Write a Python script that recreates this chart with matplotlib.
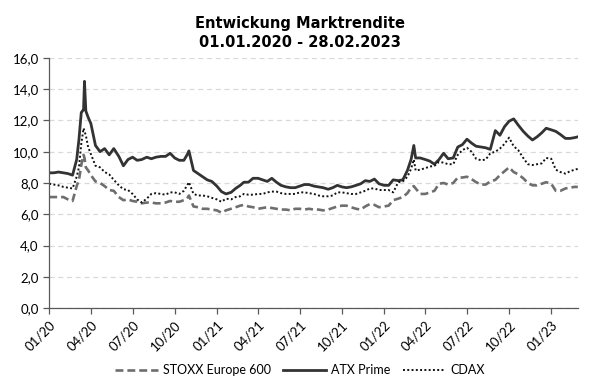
import numpy as np
import pandas as pd
import matplotlib
matplotlib.use("Agg")
import matplotlib.pyplot as plt
import matplotlib.dates as mdates
from matplotlib.ticker import FuncFormatter

# Stichtage (ca. alle 10 Tage, plus Extremwerte)
dates = [
    # 2020
    "2020-01-01", "2020-01-11", "2020-01-21", "2020-02-01", "2020-02-11", "2020-02-21",
    "2020-03-01", "2020-03-06", "2020-03-11", "2020-03-16", "2020-03-18", "2020-03-21", "2020-03-26",
    "2020-04-01", "2020-04-11", "2020-04-21", "2020-05-01", "2020-05-11", "2020-05-21",
    "2020-06-01", "2020-06-11", "2020-06-21", "2020-07-01", "2020-07-11", "2020-07-21",
    "2020-08-01", "2020-08-11", "2020-08-21", "2020-09-01", "2020-09-11", "2020-09-21",
    "2020-10-01", "2020-10-11", "2020-10-21", "2020-10-28",
    "2020-11-01", "2020-11-11", "2020-11-21", "2020-12-01", "2020-12-11", "2020-12-21",
    # 2021
    "2021-01-01", "2021-01-11", "2021-01-21", "2021-02-01", "2021-02-11", "2021-02-21",
    "2021-03-01", "2021-03-11", "2021-03-21", "2021-04-01", "2021-04-11", "2021-04-21",
    "2021-05-01", "2021-05-11", "2021-05-21", "2021-06-01", "2021-06-11", "2021-06-21",
    "2021-07-01", "2021-07-11", "2021-07-21", "2021-08-01", "2021-08-11", "2021-08-21",
    "2021-09-01", "2021-09-11", "2021-09-21", "2021-10-01", "2021-10-11", "2021-10-21",
    "2021-11-01", "2021-11-11", "2021-11-21", "2021-12-01", "2021-12-11", "2021-12-21",
    # 2022
    "2022-01-01", "2022-01-11", "2022-01-21", "2022-02-01", "2022-02-11", "2022-02-21",
    "2022-03-01", "2022-03-07", "2022-03-11", "2022-03-21",
    "2022-04-01", "2022-04-11", "2022-04-21", "2022-05-01", "2022-05-11", "2022-05-21",
    "2022-06-01", "2022-06-11", "2022-06-21", "2022-07-01", "2022-07-11", "2022-07-21",
    "2022-08-01", "2022-08-11", "2022-08-21", "2022-09-01", "2022-09-11", "2022-09-21",
    "2022-10-01", "2022-10-11", "2022-10-21", "2022-11-01", "2022-11-11", "2022-11-21",
    "2022-12-01", "2022-12-11", "2022-12-21",
    # 2023
    "2023-01-01", "2023-01-11", "2023-01-21", "2023-02-01", "2023-02-11", "2023-02-21", "2023-02-28",
]

atx_prime = [
    8.65, 8.65, 8.7, 8.65, 8.6, 8.5,
    9.5, 10.8, 12.5, 12.7, 14.5, 12.6, 12.2,
    11.8, 10.4, 10.0, 10.2, 9.8, 10.2,
    9.7, 9.1, 9.5, 9.65, 9.45, 9.5,
    9.65, 9.55, 9.65, 9.7, 9.7, 9.9,
    9.6, 9.45, 9.45, 9.8,
    10.05, 8.8, 8.6, 8.4, 8.2, 8.1,
    7.8, 7.45, 7.3, 7.4, 7.65, 7.85,
    8.05, 8.05, 8.3, 8.3, 8.2, 8.1,
    8.3, 8.05, 7.85, 7.75, 7.7, 7.7,
    7.8, 7.9, 7.9, 7.8, 7.75, 7.7,
    7.6, 7.7, 7.85, 7.75, 7.7, 7.75,
    7.85, 7.95, 8.15, 8.1, 8.25, 7.95,
    7.85, 7.85, 8.2, 8.15, 8.2, 8.8,
    9.5, 10.4, 9.6, 9.6,
    9.5, 9.4, 9.2, 9.5, 9.9, 9.55,
    9.6, 10.3, 10.45, 10.8, 10.55, 10.35,
    10.3, 10.25, 10.15, 11.35, 11.05, 11.6,
    11.95, 12.1, 11.7, 11.3, 11.0, 10.75,
    10.95, 11.2, 11.5,
    11.4, 11.3, 11.1, 10.85, 10.85, 10.9, 10.95,
]

cdax = [
    7.95, 7.9, 7.85, 7.75, 7.7, 7.65,
    8.4, 9.0, 10.5, 11.5, 11.3, 11.05, 10.3,
    9.85, 9.1, 9.0, 8.7, 8.55, 8.2,
    7.85, 7.6, 7.55, 7.3, 6.95, 6.75,
    7.0, 7.3, 7.35, 7.3, 7.25, 7.4,
    7.4, 7.3, 7.5, 7.85,
    8.05, 7.3, 7.2, 7.2, 7.15, 7.05,
    6.95, 6.8, 7.0, 6.95, 7.1, 7.15,
    7.3, 7.25, 7.25, 7.3, 7.3, 7.4,
    7.45, 7.45, 7.35, 7.3, 7.3, 7.3,
    7.4, 7.4, 7.35, 7.3, 7.2, 7.15,
    7.15, 7.2, 7.4, 7.4, 7.35, 7.3,
    7.3, 7.4, 7.5, 7.65, 7.65, 7.55,
    7.55, 7.55, 7.4, 8.05, 8.1, 8.4,
    8.9, 9.5, 8.8, 8.85,
    8.95, 9.05, 9.1, 9.35, 9.3, 9.2,
    9.2, 9.8, 10.1, 10.25, 10.0, 9.55,
    9.45, 9.5, 9.9, 10.0, 10.2, 10.5,
    10.9, 10.35, 10.1, 9.6, 9.2, 9.15,
    9.2, 9.25, 9.6,
    9.55, 8.85, 8.7, 8.6, 8.75, 8.85, 8.9,
]

stoxx_600 = [
    7.1, 7.1, 7.1, 7.1, 6.95, 6.85,
    7.8, 8.2, 9.15, 9.8, 9.6, 9.0, 8.8,
    8.5, 8.1, 8.0, 7.8, 7.55, 7.5,
    7.1, 6.9, 6.95, 6.85, 6.8, 6.7,
    6.75, 6.75, 6.7, 6.7, 6.75, 6.85,
    6.8, 6.8, 6.9, 7.0,
    7.2, 6.5, 6.45, 6.35, 6.35, 6.3,
    6.25, 6.1, 6.25, 6.35, 6.45, 6.55,
    6.6, 6.5, 6.45, 6.35, 6.4, 6.45,
    6.4, 6.35, 6.3, 6.3, 6.25, 6.35,
    6.35, 6.3, 6.35, 6.3, 6.3, 6.25,
    6.3, 6.4, 6.5, 6.55, 6.55, 6.45,
    6.35, 6.3, 6.5, 6.65, 6.6, 6.45,
    6.5, 6.55, 6.9, 7.0, 7.1, 7.35,
    7.7, 7.8, 7.65, 7.3,
    7.3, 7.4, 7.5, 7.95, 8.0, 7.9,
    8.0, 8.35, 8.35, 8.4, 8.25, 8.05,
    7.9, 7.9, 8.1, 8.2, 8.5, 8.75,
    9.0, 8.7, 8.55, 8.3, 8.0, 7.85,
    7.85, 7.95, 8.05,
    7.95, 7.5, 7.5, 7.65, 7.7, 7.75, 7.75,
]

x = pd.to_datetime(dates)

plt.rcParams["font.family"] = ["Lato", "DejaVu Sans"]

fig = plt.figure(figsize=(6.0, 3.91), dpi=100)
ax = fig.add_axes([0.082, 0.212, 0.881, 0.64])

ax.plot(x, stoxx_600, color="#6e6e6e", lw=1.9, ls=(0, (3, 1.5)), label="STOXX Europe 600")
ax.plot(x, atx_prime, color="#333333", lw=2.0, ls="-", label="ATX Prime")
ax.plot(x, cdax, color="#111111", lw=1.4, ls=(0, (1, 1.2)), label="CDAX")

ax.set_ylim(0, 16)
ax.set_yticks(np.arange(0, 17, 2))
ax.yaxis.set_major_formatter(FuncFormatter(lambda v, p: f"{v:.1f}".replace(".", ",")))
ax.set_xlim(pd.Timestamp("2020-01-01"), pd.Timestamp("2023-02-28"))
ax.xaxis.set_major_locator(mdates.MonthLocator(bymonth=[1, 4, 7, 10]))
ax.xaxis.set_major_formatter(mdates.DateFormatter("%m/%y"))
plt.setp(ax.get_xticklabels(), rotation=45, ha="right", rotation_mode="anchor")

ax.grid(axis="y", color="#d9d9d9", ls=(0, (4, 3)), lw=0.9)
ax.set_axisbelow(True)
for s in ["top", "right"]:
    ax.spines[s].set_visible(False)
for s in ["left", "bottom"]:
    ax.spines[s].set_color("#595959")
    ax.spines[s].set_linewidth(0.9)
ax.tick_params(axis="both", colors="#595959", labelcolor="#000000", labelsize=9.5, length=4, width=0.9)

fig.suptitle("Entwickung Marktrendite\n01.01.2020 - 28.02.2023", x=0.5, y=0.96,
             fontsize=10.5, fontweight="bold", family="DejaVu Sans", linespacing=1.35)

fig.legend(loc="center", bbox_to_anchor=(0.5, 0.053), ncol=3, frameon=False,
           fontsize=9, handlelength=3.4, columnspacing=1.0, handletextpad=0.4)

fig.savefig("out.png", dpi=100)
